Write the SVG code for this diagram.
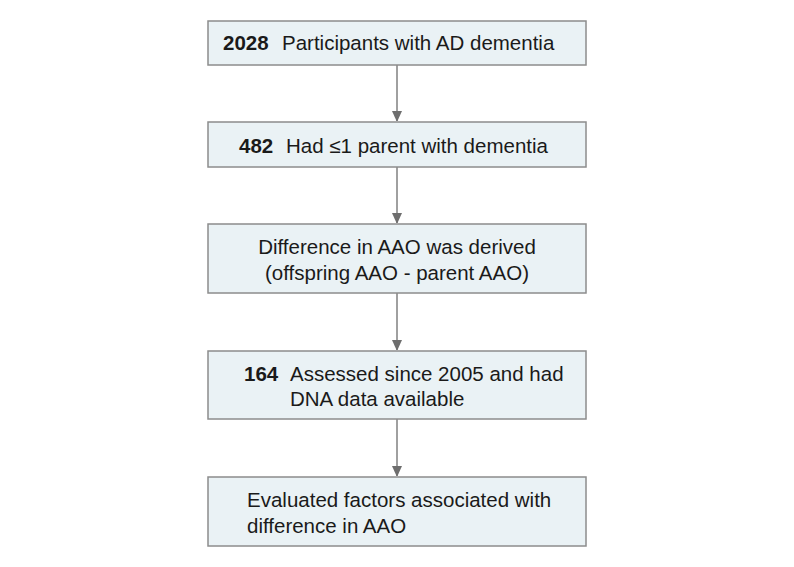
<svg xmlns="http://www.w3.org/2000/svg" width="794" height="567" viewBox="0 0 794 567">
<style>
.box{fill:#eaf2f5;stroke:#8c8c8c;stroke-width:1.5}
.t{font-family:"Liberation Sans",Arial,sans-serif;font-size:20.5px;fill:#1a1a1a}
.b{font-weight:bold}
.c{stroke:#808080;stroke-width:1.5;fill:none}
</style>
<defs>
<marker id="ah" markerWidth="10" markerHeight="12" refX="10" refY="5" orient="auto" markerUnits="userSpaceOnUse">
<path d="M0,0 L11,5 L0,10 Z" fill="#6e6e6e"/>
</marker>
</defs>
<rect width="794" height="567" fill="#ffffff"/>
<g id="connectors">
<line class="c" x1="397" y1="65" x2="397" y2="121" marker-end="url(#ah)"/>
<line class="c" x1="397" y1="167" x2="397" y2="223" marker-end="url(#ah)"/>
<line class="c" x1="397" y1="293" x2="397" y2="350" marker-end="url(#ah)"/>
<line class="c" x1="397" y1="419" x2="397" y2="476" marker-end="url(#ah)"/>
</g>
<g id="n1">
<rect class="box" x="208" y="21" width="378" height="44"/>
<text class="t" y="50"><tspan class="b" x="223">2028</tspan><tspan x="282">Participants with AD dementia</tspan></text>
</g>
<g id="n2">
<rect class="box" x="208" y="122" width="378" height="45"/>
<text class="t" y="153"><tspan class="b" x="239">482</tspan><tspan x="286">Had ≤1 parent with dementia</tspan></text>
</g>
<g id="n3">
<rect class="box" x="208" y="224" width="378" height="69"/>
<text class="t" x="397" y="254" text-anchor="middle">Difference in AAO was derived</text>
<text class="t" x="397" y="280" text-anchor="middle">(offspring AAO - parent AAO)</text>
</g>
<g id="n4">
<rect class="box" x="208" y="351" width="378" height="68"/>
<text class="t" y="381"><tspan class="b" x="244">164</tspan><tspan x="290">Assessed since 2005 and had</tspan></text>
<text class="t" x="290" y="406">DNA data available</text>
</g>
<g id="n5">
<rect class="box" x="208" y="477" width="378" height="69"/>
<text class="t" x="247" y="507">Evaluated factors associated with</text>
<text class="t" x="247" y="533">difference in AAO</text>
</g>
</svg>
